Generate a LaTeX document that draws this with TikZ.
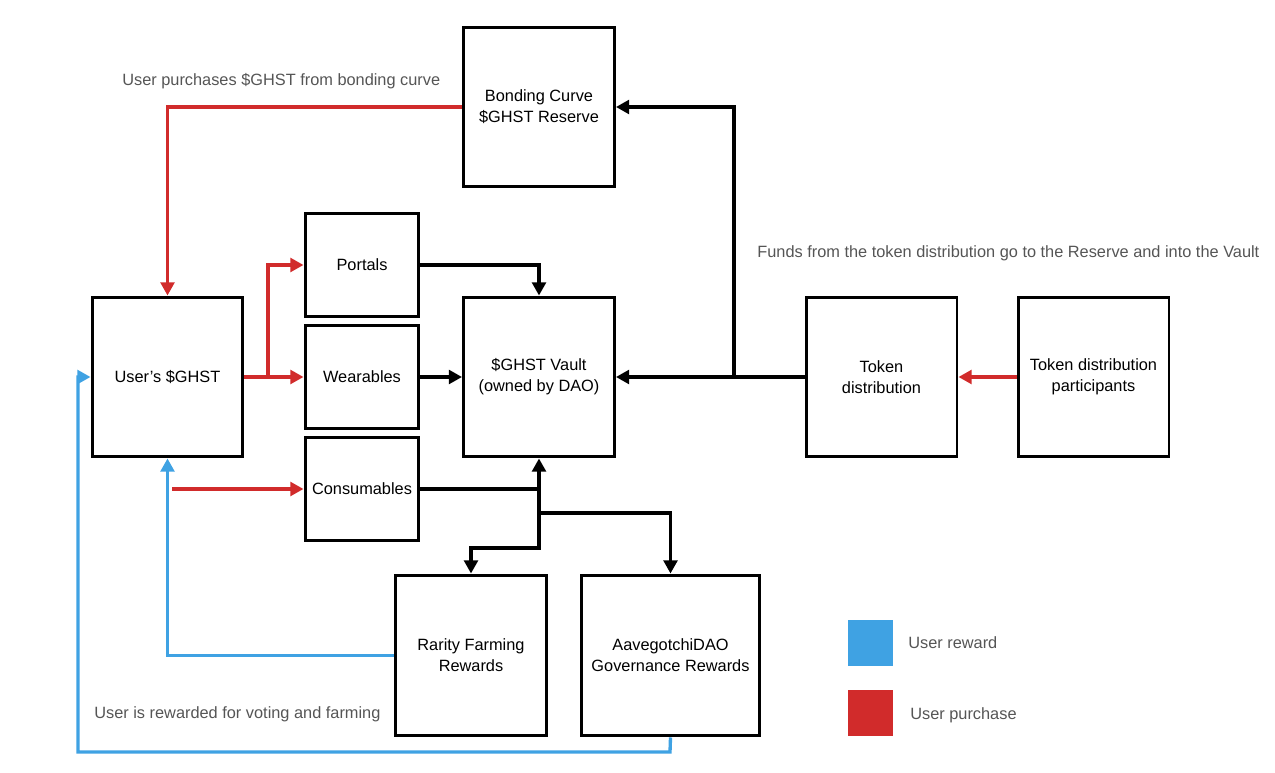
\documentclass[tikz,border=0pt]{standalone}
\usepackage{fontspec}
\setmainfont{Liberation Sans}
\usetikzlibrary{arrows.meta}
\definecolor{ured}{HTML}{D12B2B}
\definecolor{ublue}{HTML}{3FA2E3}
\definecolor{lbl}{HTML}{555555}
\begin{document}
\begin{tikzpicture}[x=0.02cm,y=-0.02cm,
  box/.style={draw=black,line width=1.7pt,fill=white,align=center,inner sep=2pt,
    font=\fontsize{9.3}{12}\selectfont,text=black},
  bigbox/.style={box,minimum width=3.02cm,minimum height=3.2cm},
  smallbox/.style={box,minimum width=2.28cm,minimum height=2.08cm},
  conn/.style={line width=1.9pt,-{Triangle[length=7.5pt,width=7.8pt]}},
  plain/.style={line width=1.9pt},
  lab/.style={font=\fontsize{9.3}{12}\selectfont,text=lbl,anchor=west,inner sep=0pt},
  legsq/.style={minimum width=0.9cm,minimum height=0.92cm,inner sep=0pt}
]
\useasboundingbox (0,0) rectangle (1275,773);
% nodes
\node[bigbox] (bond) at (539,107) {Bonding Curve\\\$GHST Reserve};
\node[smallbox] (portals) at (362,265) {Portals};
\node[smallbox] (wear) at (362,377) {Wearables};
\node[smallbox] (cons) at (362,489) {Consumables};
\node[bigbox] (user) at (167.5,377) {User's \$GHST};
\node[bigbox] (vault) at (539,377) {\$GHST Vault\\(owned by DAO)};
\node[bigbox] (token) at (881.5,377) {Token\\distribution};
\node[bigbox] (part) at (1093.5,377) {Token distribution\\participants};
\node[bigbox,minimum height=3.22cm] (rarity) at (471,655.5) {Rarity Farming\\Rewards};
\node[bigbox,minimum width=3.56cm,minimum height=3.22cm] (dao) at (670.5,655.5) {AavegotchiDAO\\Governance Rewards};
% coordinates
\coordinate (rj) at (268,377);
\coordinate (cstart) at (172,489);
\coordinate (cj) at (539,489);
\coordinate (rk) at (539,548);
\coordinate (dk) at (539,513);
\coordinate (tj) at (734,377);
\coordinate (ob) at (670,752);
\coordinate (ol) at (78,752);
% red
\draw[conn,ured] (bond.west) -| (user.north);
\draw[conn,ured] (user.east) -- (wear.west);
\draw[conn,ured] (rj) |- (portals.west);
\draw[conn,ured] (cstart) -- (cons.west);
\draw[conn,ured] (part.west) -- (token.east);
% black
\draw[conn] (portals.east) -| (vault.north);
\draw[conn] (wear.east) -- (vault.west);
\draw[conn] (token.west) -- (vault.east);
\draw[conn] (tj) |- (bond.east);
\draw[plain] (cons.east) -- (cj);
\draw[conn] (cj) -- (vault.south);
\draw[conn] (cj) -- (rk) -| (rarity.north);
\draw[conn] (dk) -| (dao.north);
% blue
\draw[conn,ublue] (rarity.west) -| (user.south);
\draw[conn,ublue] (dao.south) -- (ob) -- (ol) |- (user.west);
% labels
\node[lab] (l1) at (122,81) {User purchases \$GHST from bonding curve};
\node[lab] (l2) at (757,253) {Funds from the token distribution go to the Reserve and into the Vault};
\node[lab] (l3) at (94,714) {User is rewarded for voting and farming};
% legend
\node[legsq,fill=ublue] (lb) at (870,643) {};
\node[legsq,fill=ured] (lr) at (870,713) {};
\node[lab] (lbt) at (908,643) {User reward};
\node[lab] (lrt) at (910,715) {User purchase};
\end{tikzpicture}
\end{document}
